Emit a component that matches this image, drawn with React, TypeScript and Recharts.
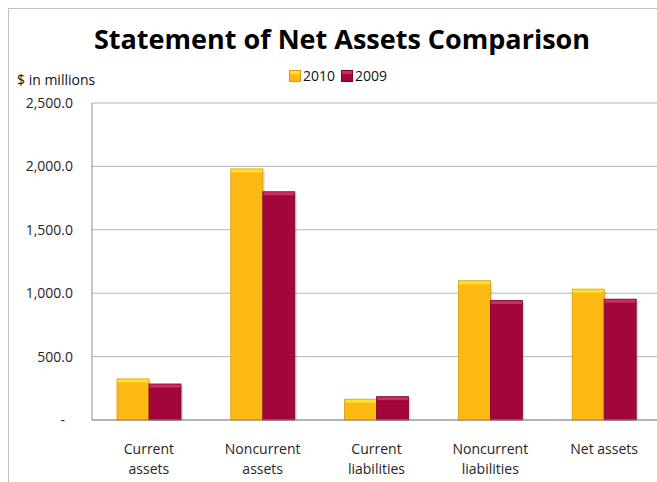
import { BarChart, Bar, XAxis, YAxis, CartesianGrid } from 'recharts';

const categories = [
  'Current assets',
  'Noncurrent assets',
  'Current liabilities',
  'Noncurrent liabilities',
  'Net assets',
];

const categoryLines = [
  ['Current', 'assets'],
  ['Noncurrent', 'assets'],
  ['Current', 'liabilities'],
  ['Noncurrent', 'liabilities'],
  ['Net assets'],
];

const values2010 = [324, 1980, 164, 1098, 1032];
const values2009 = [284, 1800, 184, 942, 953];

const yTicks = [0, 500, 1000, 1500, 2000, 2500];

const FONT = '"Open Sans", "Noto Sans", sans-serif';

const TONES: Record<string, { face: string; edge: string; top: string }> = {
  y2010: { face: '#FDB913', edge: '#D59A05', top: '#FFE02E' },
  y2009: { face: '#A3063A', edge: '#77002A', top: '#CC2E60' },
};

const data = categories.map((name, i) => ({
  name,
  y2010: values2010[i],
  y2009: values2009[i],
}));

function BevelBar(props: any) {
  const { x, y, width, height, tone } = props;
  if (!height || height <= 0) return null;
  const t = TONES[tone];
  const bevel = Math.min(3, height);
  return (
    <g>
      <rect x={x + 2} y={y + 2} width={width} height={height - 2} fill="rgba(0,0,0,0.13)" />
      <rect x={x} y={y} width={width} height={height} fill={t.face} stroke={t.edge} strokeWidth={0.8} />
      <rect x={x + 0.5} y={y + 0.5} width={width - 1} height={bevel} fill={t.top} />
    </g>
  );
}

function CategoryTick({ x, y, payload }: any) {
  const idx = categories.indexOf(payload.value);
  const lines = categoryLines[idx] || [payload.value];
  return (
    <text x={x} y={y} textAnchor="middle" fontSize={14} fill="#262626" fontFamily={FONT}>
      {lines.map((line, i) => (
        <tspan key={i} x={x} dy={i === 0 ? 34 : 20}>
          {line}
        </tspan>
      ))}
    </text>
  );
}

function formatY(v: number) {
  if (v === 0) return '-\u2007';
  return v.toLocaleString('en-US', { minimumFractionDigits: 1, maximumFractionDigits: 1 });
}

function LegendSwatch({ tone }: { tone: string }) {
  const t = TONES[tone];
  return (
    <svg width={12} height={12} style={{ display: 'block' }}>
      <rect x={0.5} y={0.5} width={11} height={11} fill={t.face} stroke={t.edge} />
      <rect x={1} y={1} width={10} height={3} fill={t.top} />
    </svg>
  );
}

function ChartLegend() {
  const items = [
    { key: 'y2010', label: '2010' },
    { key: 'y2009', label: '2009' },
  ];
  return (
    <div style={{ display: 'flex', alignItems: 'center', fontFamily: FONT, fontSize: 14, color: '#111' }}>
      {items.map((it) => (
        <div key={it.key} style={{ display: 'flex', alignItems: 'center', marginRight: 6 }}>
          <LegendSwatch tone={it.key} />
          <span style={{ marginLeft: 2, lineHeight: '14px' }}>{it.label}</span>
        </div>
      ))}
    </div>
  );
}

export default function App() {
  return (
    <div
      style={{
        position: 'fixed',
        left: 0,
        top: 0,
        width: 657,
        height: 482,
        overflow: 'hidden',
        background: '#fff',
      }}
    >
      <div
        style={{
          position: 'absolute',
          left: 8,
          top: 8,
          width: 720,
          height: 520,
          border: '1px solid #bfbfbf',
        }}
      />
      <div
        style={{
          position: 'absolute',
          left: 0,
          top: 20,
          width: 684,
          textAlign: 'center',
          fontFamily: FONT,
          fontWeight: 700,
          fontSize: 27,
          lineHeight: '37px',
          color: '#000',
          whiteSpace: 'nowrap',
        }}
      >
        Statement of Net Assets Comparison
      </div>
      <div
        style={{
          position: 'absolute',
          left: 17,
          top: 70,
          fontFamily: FONT,
          fontSize: 14,
          lineHeight: '19px',
          color: '#111',
          whiteSpace: 'nowrap',
        }}
      >
        $ in millions
      </div>
      <div style={{ position: 'absolute', left: 289, top: 69 }}>
        <ChartLegend />
      </div>
      <div style={{ position: 'absolute', left: 0, top: 0 }}>
        <BarChart
          width={670}
          height={482}
          data={data}
          margin={{ top: 103, right: 9, bottom: 22, left: 12 }}
          barGap={0}
        >
          <CartesianGrid vertical={false} stroke="#b5b5b5" />
          <XAxis
            dataKey="name"
            axisLine={{ stroke: '#8c8c8c' }}
            tickLine={false}
            tickSize={0}
            tickMargin={0}
            height={40}
            interval={0}
            tick={<CategoryTick />}
          />
          <YAxis
            width={80}
            domain={[0, 2500]}
            ticks={yTicks}
            tickFormatter={formatY}
            axisLine={{ stroke: '#8c8c8c' }}
            tickLine={false}
            tickSize={6}
            tickMargin={13}
            tick={{ fontSize: 14, fill: '#262626', fontFamily: FONT }}
          />
          <Bar
            dataKey="y2010"
            name="2010"
            barSize={32}
            isAnimationActive={false}
            shape={(p: any) => <BevelBar {...p} tone="y2010" />}
          />
          <Bar
            dataKey="y2009"
            name="2009"
            barSize={32}
            isAnimationActive={false}
            shape={(p: any) => <BevelBar {...p} tone="y2009" />}
          />
        </BarChart>
      </div>
    </div>
  );
}
